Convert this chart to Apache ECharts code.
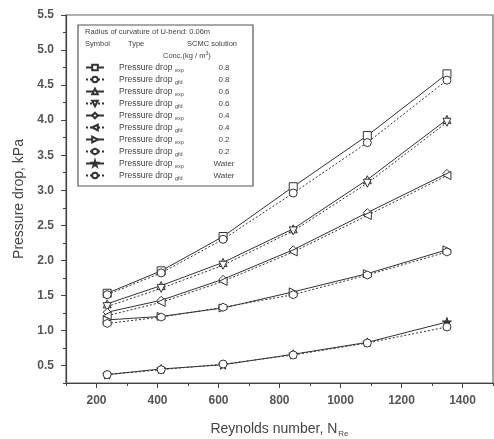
<!DOCTYPE html>
<html><head><meta charset="utf-8">
<script src="https://cdn.jsdelivr.net/npm/echarts@6/dist/echarts.min.js"></script>
<style>html,body{margin:0;padding:0;background:#fff}#c{width:494px;height:439px}</style>
</head><body><div id="c"></div>
<script>
// Data
const reynolds = [235, 412, 615, 845, 1088, 1349];
const exp08 = [1.53, 1.85, 2.34, 3.05, 3.78, 4.66];
const gfd08 = [1.51, 1.82, 2.30, 2.96, 3.68, 4.57];
const exp06 = [1.38, 1.64, 1.97, 2.45, 3.15, 4.01];
const gfd06 = [1.34, 1.60, 1.93, 2.42, 3.10, 3.97];
const exp04 = [1.26, 1.43, 1.73, 2.15, 2.68, 3.24];
const gfd04 = [1.21, 1.40, 1.70, 2.12, 2.64, 3.21];
const exp02 = [1.15, 1.20, 1.32, 1.55, 1.81, 2.15];
const gfd02 = [1.10, 1.19, 1.33, 1.51, 1.79, 2.12];
const expW = [0.37, 0.45, 0.51, 0.66, 0.83, 1.12];
const gfdW = [0.37, 0.44, 0.52, 0.65, 0.82, 1.05];
const concLabels = ['0.8','0.8','0.6','0.6','0.4','0.4','0.2','0.2','Water','Water'];
const typeSubs = ['exp','gfd','exp','gfd','exp','gfd','exp','gfd','exp','gfd'];
const xMajor = [200, 400, 600, 800, 1000, 1200, 1400];
const xMinor = [100, 300, 500, 700, 900, 1100, 1300, 1500];
const yMajor = [0.5, 1.0, 1.5, 2.0, 2.5, 3.0, 3.5, 4.0, 4.5, 5.0, 5.5];
const yMinor = [0.25, 0.75, 1.25, 1.75, 2.25, 2.75, 3.25, 3.75, 4.25, 4.75, 5.25];

const seriesData = [exp08, gfd08, exp06, gfd06, exp04, gfd04, exp02, gfd02, expW, gfdW];
const hex = 'path://M50,0 L93,25 L93,75 L50,100 L7,75 L7,25 Z';
const star = 'path://M50,0 L61,35 L98,35 L68,57 L79,91 L50,70 L21,91 L32,57 L2,35 L39,35 Z';
const symbols = ['rect','circle','triangle','triangle','diamond','triangle','triangle',hex,star,'circle'];
const rotates = [0,0,0,180,0,90,-90,0,0,0];

const series = seriesData.map((d, i) => ({
  name: 's' + i,
  type: 'line',
  data: d.map((v, j) => [reynolds[j], v]),
  symbol: symbols[i],
  symbolRotate: rotates[i],
  symbolSize: i === 8 ? 9 : 8,
  color: '#333',
  lineStyle: { color: '#333', width: 1, type: i % 2 ? [2, 2] : 'solid' },
  itemStyle: { color: i === 8 ? '#333' : '#fff', borderColor: '#333', borderWidth: 1 },
  z: 3
}));

const chart = echarts.init(document.getElementById('c'));
const font = 'Liberation Sans, Arial';
chart.setOption({
  animation: false,
  backgroundColor: '#fff',
  grid: { left: 66, right: 1, top: 15, bottom: 56, show: true, borderColor: '#666', borderWidth: 1.2,
          containLabel: false, outerBoundsMode: 'none' },
  xAxis: [{
    type: 'value', min: 100, max: 1500, interval: 100,
    axisLine: { show: true, onZero: false, lineStyle: { color: '#444', width: 1.2 } },
    axisTick: { show: true, length: 5, customValues: xMajor, lineStyle: { color: '#444' } },
    axisLabel: { customValues: xMajor, color: '#555', fontSize: 12, fontWeight: 'bold', fontFamily: font, margin: 12,
      formatter: v => String(v) },
    splitLine: { show: false },
    name: '{a|Reynolds number, N}{s|Re}',
    nameLocation: 'middle', nameGap: 37,
    nameTextStyle: { rich: {
      a: { fontSize: 14, color: '#444', fontFamily: font },
      s: { fontSize: 8, color: '#444', fontFamily: font, padding: [10, 0, 0, 1] }
    } }
  }, {
    type: 'value', min: 100, max: 1500, interval: 100, position: 'bottom',
    axisLine: { show: false },
    axisTick: { show: true, length: 3, customValues: xMinor, lineStyle: { color: '#444' } },
    axisLabel: { show: false }, splitLine: { show: false }
  }],
  yAxis: [{
    type: 'value', min: 0.25, max: 5.5, interval: 0.25,
    axisLine: { show: true, onZero: false, lineStyle: { color: '#444', width: 1.2 } },
    axisTick: { show: true, length: 5, customValues: yMajor, lineStyle: { color: '#444' } },
    axisLabel: { customValues: yMajor, color: '#555', fontSize: 12, fontWeight: 'bold', fontFamily: font, margin: 12,
      formatter: v => v.toFixed(1) },
    splitLine: { show: false },
    name: 'Pressure drop, kPa', nameLocation: 'middle', nameGap: 35,
    nameTextStyle: { fontSize: 14, color: '#444', fontFamily: font }
  }, {
    type: 'value', min: 0.25, max: 5.5, interval: 0.25, position: 'left',
    axisLine: { show: false },
    axisTick: { show: true, length: 3, customValues: yMinor, lineStyle: { color: '#444' } },
    axisLabel: { show: false }, splitLine: { show: false }
  }],
  legend: {
    orient: 'vertical', left: 85, top: 63, padding: 0,
    itemWidth: 18, itemHeight: 7, itemGap: 2,
    selectedMode: false,
    data: series.map(s => s.name),
    formatter: name => {
      const i = +name.slice(1);
      return '{g| }{a|Pressure drop}{s|' + typeSubs[i] + '}{c|' + concLabels[i] + '}';
    },
    textStyle: { rich: {
      g: { width: 10, fontSize: 8 },
      a: { fontSize: 8.5, color: '#444', fontFamily: font, width: 56, lineHeight: 9 },
      s: { fontSize: 5.5, color: '#444', fontFamily: font, width: 30, padding: [5, 0, 0, 0] },
      c: { fontSize: 8, color: '#444', fontFamily: font, width: 38, align: 'center' }
    } }
  },
  graphic: [
    { type: 'rect', shape: { x: 78, y: 25, width: 175, height: 161 }, style: { fill: 'none', stroke: '#555', lineWidth: 1.2 }, z: 1 },
    { type: 'text', x: 85, y: 28, style: { text: 'Radius of curvature of U-bend: 0.06m', fontSize: 7.5, fill: '#444', fontFamily: font } },
    { type: 'text', x: 85, y: 40, style: { text: 'Symbol', fontSize: 7.5, fill: '#444', fontFamily: font } },
    { type: 'text', x: 128, y: 40, style: { text: 'Type', fontSize: 7.5, fill: '#444', fontFamily: font } },
    { type: 'text', x: 187, y: 40, style: { text: 'SCMC solution', fontSize: 7.5, fill: '#444', fontFamily: font } },
    { type: 'text', x: 163, y: 51, style: { text: '{a|Conc.(kg / m}{s|3}{a|)}', fontSize: 7.5, fill: '#444',
      rich: { a: { fontSize: 7.5, fill: '#444', fontFamily: font },
              s: { fontSize: 5, fill: '#444', fontFamily: font, padding: [0, 0, 5, 0] } } } }
  ],
  series: series
});
</script></body></html>
